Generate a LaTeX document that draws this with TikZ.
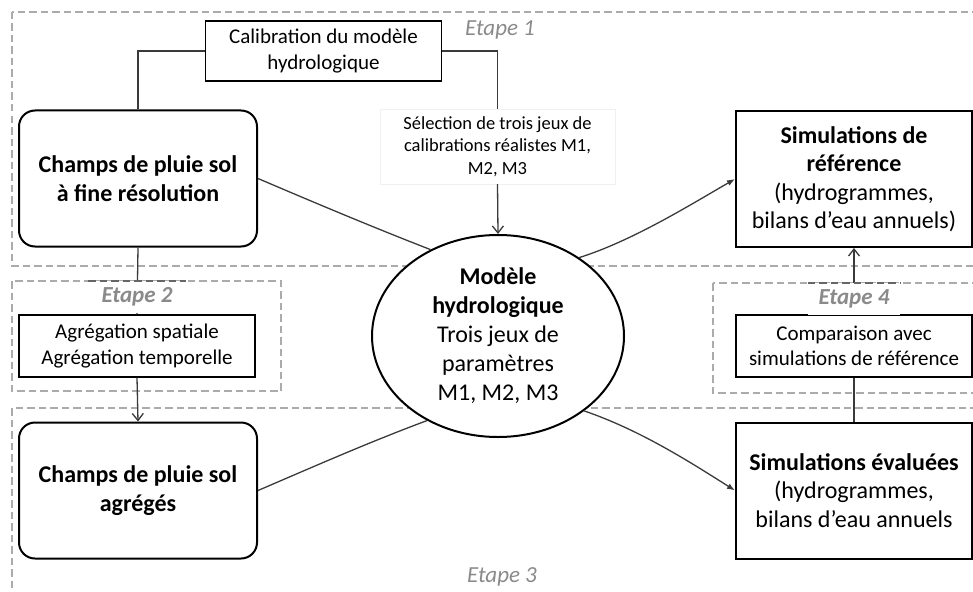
\documentclass[tikz,border=0pt]{standalone}
\usepackage{fontspec}
\setmainfont{Carlito}
\usetikzlibrary{arrows.meta,shapes.geometric}
\definecolor{etapegris}{HTML}{ABABAB}
\definecolor{lblgris}{HTML}{8A8A8A}
\definecolor{trait}{HTML}{3A3A3A}
\newcommand{\fs}[2]{\fontsize{#1}{#2}\selectfont}

\begin{document}
\begin{tikzpicture}[x=1pt, y=-1pt,
  etape/.style={draw=etapegris, line width=2.2pt, dash pattern=on 7.5pt off 4pt},
  etapelbl/.style={text=lblgris, inner sep=0pt, font=\fs{23}{28}\itshape},
  tache/.style={draw, line width=1.2pt, fill=white, align=center, inner sep=0pt,
                minimum width=236pt, font=\fs{21}{25.5}},
  champ/.style={draw, line width=2pt, rounded corners=16pt, minimum width=238pt,
                minimum height=136pt, align=center, inner sep=0pt, font=\fs{24}{28.5}\bfseries},
  simbox/.style={draw, line width=2pt, minimum width=236pt, minimum height=136pt,
                 align=center, inner sep=0pt, font=\fs{24}{28.5}},
  lien/.style={draw=trait, line width=1.3pt},
  ouvert/.style={lien, -{Straight Barb[length=7pt,width=11pt]}},
  plein/.style={lien, -{Latex[length=8pt,width=6pt]}}]

  \useasboundingbox (0,0) rectangle (973,591);
  \clip (0,0) rectangle (973,591);

  % etapes (cadres pointilles)
  \draw[etape] (12,12) rectangle (995,266);
  \draw[etape] (12,281) rectangle (281,391);
  \draw[etape] (12,408) rectangle (995,615);
  \draw[etape] (713,283) rectangle (995,393);

  \node[etapelbl] (e1) at (500,30) {Etape 1};
  \node[etapelbl] (e3) at (502,577) {Etape 3};

  % boites
  \node[tache, minimum height=60pt] (calib) at (323.5,51)
      {Calibration du modèle\\hydrologique};
  \node[draw=black!6, fill=white, align=center, inner sep=0pt, minimum width=235pt,
        minimum height=75pt, font=\fs{18.5}{22.5}] (sel) at (497.5,146.5)
      {Sélection de trois jeux de\\calibrations réalistes M1,\\M2, M3};
  \node[champ] (fine) at (138,178.5) {Champs de pluie sol\\à fine résolution};
  \node[tache, minimum height=62pt] (agr) at (137,346)
      {Agrégation spatiale\\Agrégation temporelle};
  \node[champ] (agg) at (138,490.5) {Champs de pluie sol\\agrégés};
  \node[simbox] (simref) at (854,179)
      {\textbf{Simulations de}\\\textbf{référence}\\(hydrogrammes,\\bilans d’eau annuels)};
  \node[tache, minimum height=62pt] (comp) at (854,346)
      {Comparaison avec\\simulations de référence};
  \node[simbox] (simeval) at (854,490.5)
      {\textbf{Simulations évaluées}\\(hydrogrammes,\\bilans d’eau annuels};

  % modele
  \node[ellipse, draw, line width=2pt, fill=white, minimum width=252pt, minimum height=202pt,
        inner sep=0pt, align=center, font=\fs{24}{29}] (ell) at (498,336)
      {\textbf{Modèle}\\\textbf{hydrologique}\\Trois jeux de\\paramètres\\M1, M2, M3};

  % liens
  \draw[lien] (calib.west) -| (fine.north);
  \draw[lien] (calib.east) -| (sel.north);
  \draw[ouvert] (sel.south) -- (ell.north);
  \draw[lien] (fine.east) .. controls (320,205) and (375,228) .. (ell.128);
  \draw[lien] (fine.south) -- (agr.north);
  \draw[ouvert] (agr.south) -- (agg.north);
  \draw[lien] (agg.east) .. controls (315,466) and (372,441) .. (ell.230);
  \draw[plein] (ell.44) .. controls (632,241) and (690,205) .. (simref.west);
  \draw[plein] (ell.-41) .. controls (640,430) and (690,462) .. (simeval.west);
  \draw[ouvert] (comp.north) -- (simref.south);
  \draw[lien] (comp.south) -- (simeval.north);

  % etiquettes etapes 2 et 4
  \node[etapelbl, font=\fs{23}{28}\bfseries\itshape, fill=white, minimum width=97pt,
        minimum height=32pt, anchor=north] (e2) at (137,281) {Etape 2};
  \draw[etape, draw=black!60] (e2.north west) -- (e2.north east);
  \node[etapelbl, font=\fs{23}{28}\bfseries\itshape, fill=white, minimum width=92pt,
        minimum height=32pt, anchor=north] (e4) at (854,283) {Etape 4};
  \draw[etape, draw=black!60] (e4.north west) -- (e4.north east);

\end{tikzpicture}
\end{document}
